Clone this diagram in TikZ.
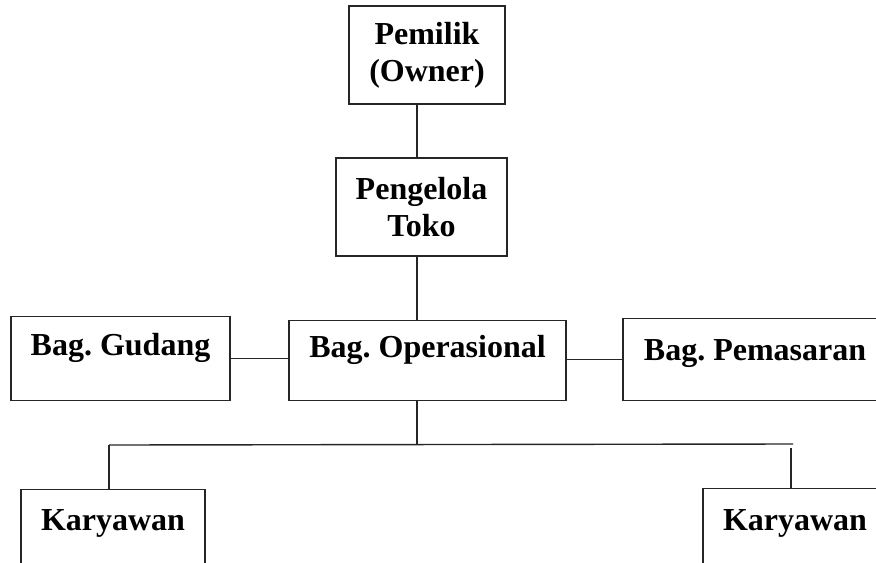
\documentclass[tikz,border=0pt]{standalone}
\usepackage{fontspec}
\setmainfont{Liberation Serif}
\usepackage{tikz}
\frenchspacing

\begin{document}
\begin{tikzpicture}[x=0.5pt,y=-0.5pt]
	\tikzstyle{every node}+=[inner sep=0pt,font=\bfseries\fontsize{16}{18.5}\selectfont]
	\tikzstyle{box}=[draw=black!85,line width=0.7pt,align=center]
	\tikzstyle{unit}=[box,anchor=north,text height=#1]
	\tikzstyle{link}=[draw=black!85,line width=0.7pt]
	\clip (0,0) rectangle (876,562);
	% top of the chart
	\node [box,minimum width=78pt,minimum height=49pt] (pemilik) at (427,55) {Pemilik\\(Owner)};
	\node [box,minimum width=85.5pt,minimum height=49pt] (pengelola) at (421.5,207) {Pengelola\\Toko};
	% middle row
	\node [unit=19.5pt,text depth=22.5pt,minimum width=109.5pt] (gudang) at (120.5,316) {Bag. Gudang};
	\node [unit=18.5pt,text depth=21.5pt,minimum width=138.5pt] (operasional) at (427.5,320) {Bag. Operasional};
	\node [unit=21pt,text depth=20pt,minimum width=132pt] (pemasaran) at (755,318) {Bag. Pemasaran};
	% bottom row
	\node [unit=20.5pt,text depth=40pt,minimum width=92pt] (karyawan1) at (113,489) {Karyawan};
	\node [unit=21pt,text depth=40pt,minimum width=92pt] (karyawan2) at (795,488) {Karyawan};
	\coordinate (trunk) at (417,0);
	\coordinate (busL) at (109,445);
	\coordinate (busR) at (793,444);
	\coordinate (drop) at (791,448);
	\draw [link] (pemilik.south -| trunk) -- (pengelola.north -| trunk);
	\draw [link] (pengelola.south -| trunk) -- (operasional.north -| trunk);
	\draw [link] (operasional.south -| trunk) -- (trunk |- busL);
	\draw [link] (gudang.east) -- (gudang.east -| operasional.west);
	\draw [link] (pemasaran.west -| operasional.east) -- (pemasaran.west);
	\draw [link] (busL) -- (busR);
	\draw [link] (busL) -- (busL |- karyawan1.north);
	\draw [link] (drop) -- (drop |- karyawan2.north);
\end{tikzpicture}
\end{document}
